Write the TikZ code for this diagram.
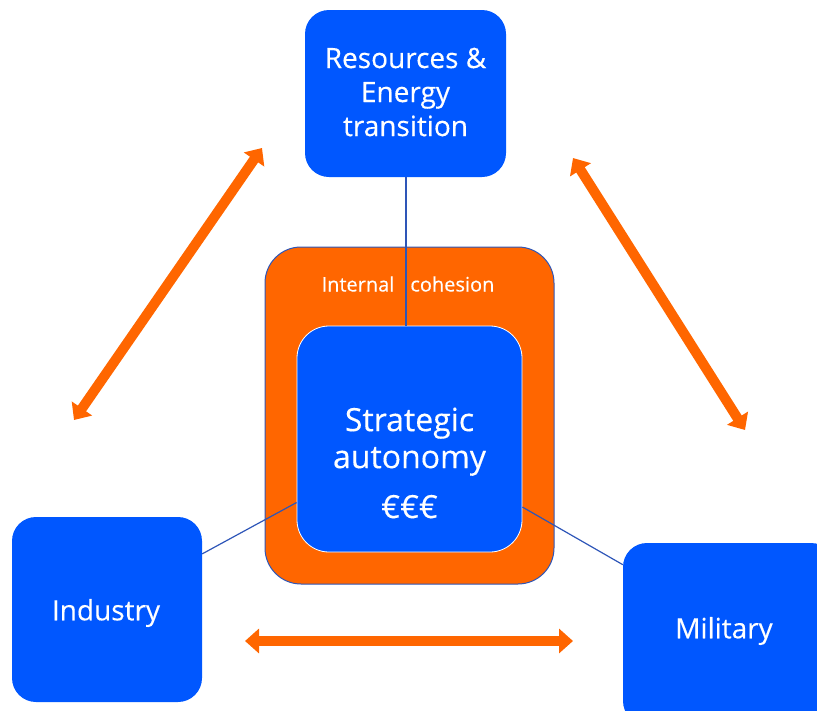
\documentclass[tikz,border=0pt]{standalone}
\usepackage{fontspec}
\setmainfont{Open Sans}[FakeBold=0.3]
\usetikzlibrary{arrows.meta,calc}
\definecolor{boxblue}{HTML}{0057FF}
\definecolor{cohorange}{HTML}{FF6600}
\definecolor{linkblue}{HTML}{2E56B8}
\begin{document}
\begin{tikzpicture}[x=1pt,y=-1pt,
  pillar/.style={fill=boxblue, draw=none, rounded corners=24pt, inner sep=0pt},
  pillartext/.style={text=white, align=center, font=\fontsize{28}{34}\selectfont},
  link/.style={draw=linkblue, line width=1.2pt},
  tie/.style={draw=cohorange, line width=10pt,
    {Triangle[length=14pt,width=24pt]}-{Triangle[length=14pt,width=24pt]}},
]
\clip (0,0) rectangle (817,710);

% central nested blocks
\node[fill=cohorange, draw=linkblue, line width=1pt, rounded corners=36pt,
      minimum width=289pt, minimum height=337pt] (outer) at (409.5,415.5) {};
\node[text=white, font=\fontsize{20}{24}\selectfont] (cohesion) at (408,284)
      {Internal\hspace{16pt}cohesion};
\node[pillar, draw=white, line width=0.8pt, rounded corners=32pt,
      minimum width=225pt, minimum height=226pt] (core) at (409.5,439) {};
\node[pillartext, font=\fontsize{32}{37}\selectfont] (coretext) at (409.5,463)
      {Strategic\\autonomy\\[13pt]€€€};

% the three pillars
\node[pillar, minimum width=201pt, minimum height=167pt] (res) at (405.5,93.5) {};
\node[pillartext] (restext) at (405.5,92) {Resources \&\\Energy\\transition};
\node[pillar, minimum width=190pt, minimum height=185pt] (ind) at (107,609.5) {};
\node[pillartext] (indtext) at (106,613) {Industry};
\node[pillar, minimum width=212pt, minimum height=182pt] (mil) at (729,634) {};
\node[pillartext] (miltext) at (724,631) {Military};

% thin links from the pillars to the core
\draw[link] (res.south -| 406,0) -- (core.north -| 406,0);
\draw[link] ($(ind.north east)!0.2!(ind.south east)$) -- ($(core.north west)!0.78!(core.south west)$);
\draw[link] ($(core.north east)!0.8!(core.south east)$) -- ($(mil.north west)!0.12!(mil.south west)$);

% double-headed relations between the pillars
\coordinate (a1) at (262,148); \coordinate (a2) at (74,420);
\coordinate (b1) at (573,158); \coordinate (b2) at (745,430);
\coordinate (c1) at (245,641); \coordinate (c2) at (573,641);
\draw[tie] (a1) -- (a2);
\draw[tie] (b1) -- (b2);
\draw[tie] (c1) -- (c2);
\end{tikzpicture}
\end{document}
